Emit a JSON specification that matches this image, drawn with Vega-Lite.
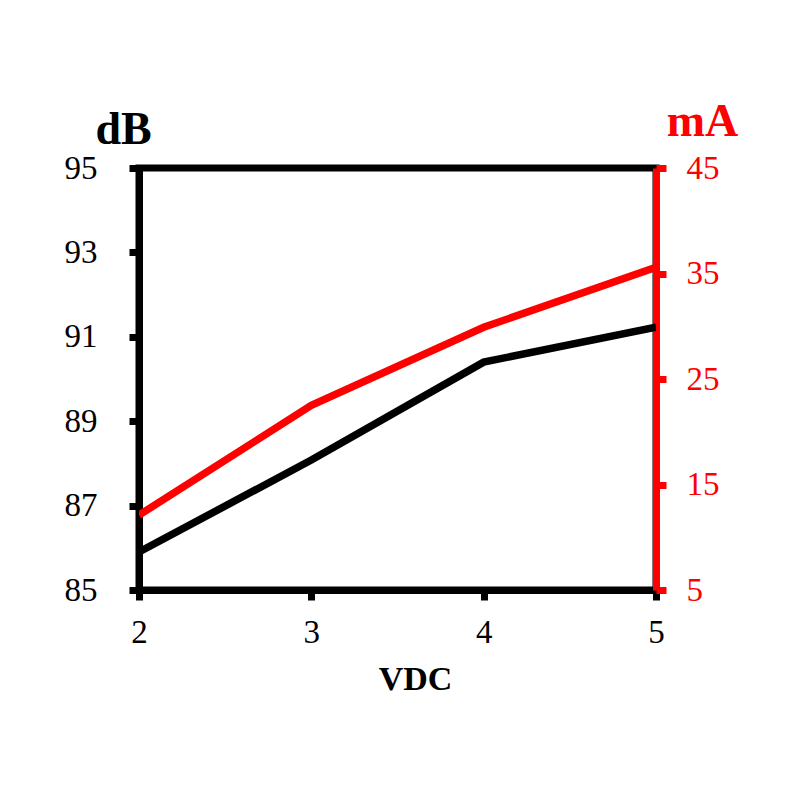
{
  "$schema": "https://vega.github.io/schema/vega-lite/v6.json",
  "autosize": "none",
  "width": 517,
  "height": 422,
  "padding": {"left": 139, "top": 168, "right": 144, "bottom": 210},
  "background": "white",
  "config": {
    "view": {"stroke": "black", "strokeWidth": 7},
    "font": "Liberation Serif"
  },
  "data": {
    "values": [
      {"VDC": 2, "dB": 85.9, "mA": 12.1},
      {"VDC": 3, "dB": 88.08, "mA": 22.5},
      {"VDC": 4, "dB": 90.4, "mA": 29.9},
      {"VDC": 5, "dB": 91.23, "mA": 35.6}
    ]
  },
  "encoding": {
    "x": {
      "field": "VDC", "type": "quantitative",
      "scale": {"domain": [2, 5], "nice": false, "zero": false},
      "axis": {
        "values": [2, 3, 4, 5], "grid": false, "title": "VDC", "labelFlush": false,
        "titleFont": "Liberation Serif", "titleFontSize": 34, "titleFontWeight": "bold", "titleColor": "black",
        "titleX": 276, "titleY": 99, "titleAlign": "center", "titleBaseline": "alphabetic",
        "labelFont": "Liberation Serif", "labelFontSize": 33, "labelColor": "black", "labelPadding": 16,
        "domainColor": "black", "domainWidth": 7, "tickColor": "black", "tickWidth": 7, "tickSize": 10
      }
    }
  },
  "layer": [
    {
      "mark": {"type": "line", "color": "black", "strokeWidth": 7.5, "clip": true},
      "encoding": {
        "y": {
          "field": "dB", "type": "quantitative",
          "scale": {"domain": [85, 95], "nice": false, "zero": false},
          "axis": {
            "orient": "left", "values": [85, 87, 89, 91, 93, 95], "grid": false, "title": "dB",
            "titleFont": "Liberation Serif", "titleFontSize": 46, "titleFontWeight": "bold", "titleColor": "black",
            "titleAngle": 0, "titleX": -16, "titleY": -25, "titleAlign": "center", "titleBaseline": "alphabetic",
            "labelFont": "Liberation Serif", "labelFontSize": 33, "labelColor": "black", "labelPadding": 32,
            "domainColor": "black", "domainWidth": 7, "tickColor": "black", "tickWidth": 7, "tickSize": 10
          }
        }
      }
    },
    {
      "mark": {"type": "line", "color": "#ff0000", "strokeWidth": 7.5, "clip": true},
      "encoding": {
        "y": {
          "field": "mA", "type": "quantitative",
          "scale": {"domain": [5, 45], "nice": false, "zero": false},
          "axis": {
            "orient": "right", "values": [5, 15, 25, 35, 45], "grid": false, "title": "mA",
            "titleFont": "Liberation Serif", "titleFontSize": 46, "titleFontWeight": "bold", "titleColor": "#ff0000",
            "titleAngle": 0, "titleX": 46, "titleY": -33, "titleAlign": "center", "titleBaseline": "alphabetic",
            "labelFont": "Liberation Serif", "labelFontSize": 33, "labelColor": "#ff0000", "labelPadding": 20,
            "domainColor": "#ff0000", "domainWidth": 7, "tickColor": "#ff0000", "tickWidth": 7, "tickSize": 10
          }
        }
      }
    }
  ],
  "resolve": {"scale": {"y": "independent"}}
}
